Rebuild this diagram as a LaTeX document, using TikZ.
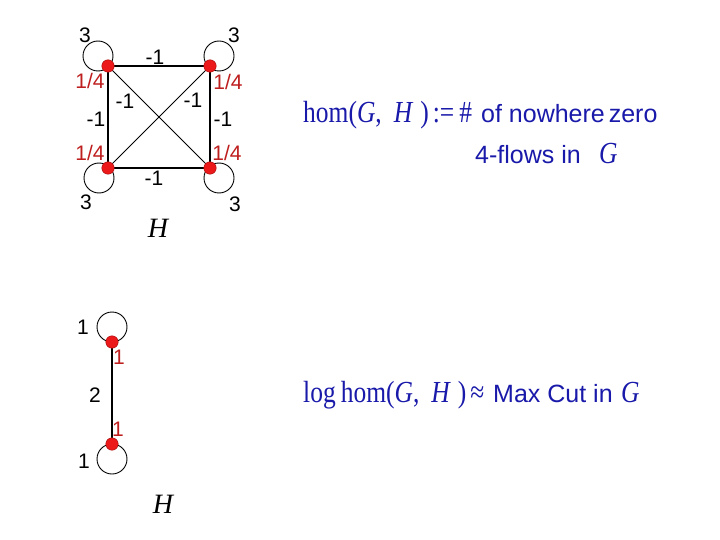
\documentclass[tikz,border=0pt]{standalone}
\usepackage{fontspec}
\setmainfont{Liberation Serif}
\setsansfont{Liberation Sans}
\definecolor{vred}{RGB}{235,25,25}
\definecolor{lred}{RGB}{190,30,30}
\definecolor{tblue}{RGB}{25,25,170}
\newcommand{\tallserif}[1]{\scalebox{1}[1.2]{#1}}
\tikzset{
  vtx/.style={circle,fill=vred,draw=vred!70!black,line width=0.4pt,inner sep=0pt,minimum size=12.5pt},
  sqedge/.style={line width=1.2pt},
  dgedge/.style={line width=0.8pt},
  loopc/.style={line width=0.9pt},
  wlab/.style={font=\sffamily\fontsize{21}{21}\selectfont,inner sep=0pt},
  rlab/.style={wlab,text=lred},
  hlab/.style={font=\fontsize{28}{28}\selectfont\itshape,inner sep=0pt},
  serif/.style={font=\fontsize{25.5}{25.5}\selectfont,text=tblue,inner sep=0pt,anchor=base west},
  sans/.style={font=\sffamily\fontsize{25}{25}\selectfont,text=tblue,inner sep=0pt,anchor=base west}
}
\begin{document}
\begin{tikzpicture}[x=1pt,y=-1pt]
\useasboundingbox[fill=white] (0,0) rectangle (720,540);
% top graph H
\coordinate (a) at (108,66);
\coordinate (b) at (210,66);
\coordinate (c) at (108,168);
\coordinate (d) at (210,168);
\draw[loopc] (a) ++(-10,-10) circle[radius=15];
\draw[loopc] (b) ++(9,-10) circle[radius=15];
\draw[loopc] (c) ++(-9,10) circle[radius=15];
\draw[loopc] (d) ++(9,10) circle[radius=15];
\draw[sqedge] (a) -- (b) -- (d) -- (c) -- (a);
\draw[dgedge] (a) -- (d);
\draw[dgedge] (b) -- (c);
\node[vtx] (va) at (a) {};
\node[vtx] (vb) at (b) {};
\node[vtx] (vc) at (c) {};
\node[vtx] (vd) at (d) {};
\node[wlab] (l1) at (85,35) {3};
\node[wlab] (l2) at (234,35) {3};
\node[wlab] (l3) at (86,202) {3};
\node[wlab] (l4) at (235,204) {3};
\node[wlab] (e1) at (155,57) {-1};
\node[wlab] (e2) at (125,101) {-1};
\node[wlab] (e3) at (193,100) {-1};
\node[wlab] (e4) at (96,119) {-1};
\node[wlab] (e5) at (223,119) {-1};
\node[wlab] (e6) at (154,178) {-1};
\node[rlab] (r1) at (90,81) {1/4};
\node[rlab] (r2) at (228,82) {1/4};
\node[rlab] (r3) at (90,153) {1/4};
\node[rlab] (r4) at (227,153) {1/4};
\node[hlab] (h1) at (158,228) {H};
% bottom graph H
\coordinate (p) at (112,342);
\coordinate (q) at (112,444);
\draw[loopc] (p) ++(0,-15) circle[radius=15];
\draw[loopc] (q) ++(0,15) circle[radius=15];
\draw[sqedge] (p) -- (q);
\node[vtx] (vp) at (p) {};
\node[vtx] (vq) at (q) {};
\node[wlab] (m1) at (83,327) {1};
\node[rlab] (m2) at (119,357) {1};
\node[wlab] (m3) at (95,395) {2};
\node[rlab] (m4) at (118,429) {1};
\node[wlab] (m5) at (84,461) {1};
\node[hlab] (h2) at (163,504) {H};
% texts
\node[serif] (t1) at (303,123) {\tallserif{hom(\textit{G},\kern12pt\textit{H}\kern7pt)\kern4pt:=\kern5pt\#}};
\node[sans] (t2) at (481,123) {of nowhere\kern-3pt\ zero};
\node[sans] (t3) at (475,164) {4-flows in};
\node[serif] (t4) at (599,164) {\tallserif{\textit{G}}};
\node[serif] (t5) at (303,402) {\tallserif{log\kern5pt hom(\textit{G},\kern12pt\textit{H}\kern7pt)\kern4pt≈}};
\node[sans] (t6) at (493,402) {Max Cut in};
\node[serif] (t7) at (621,402) {\tallserif{\textit{G}}};
\end{tikzpicture}
\end{document}
